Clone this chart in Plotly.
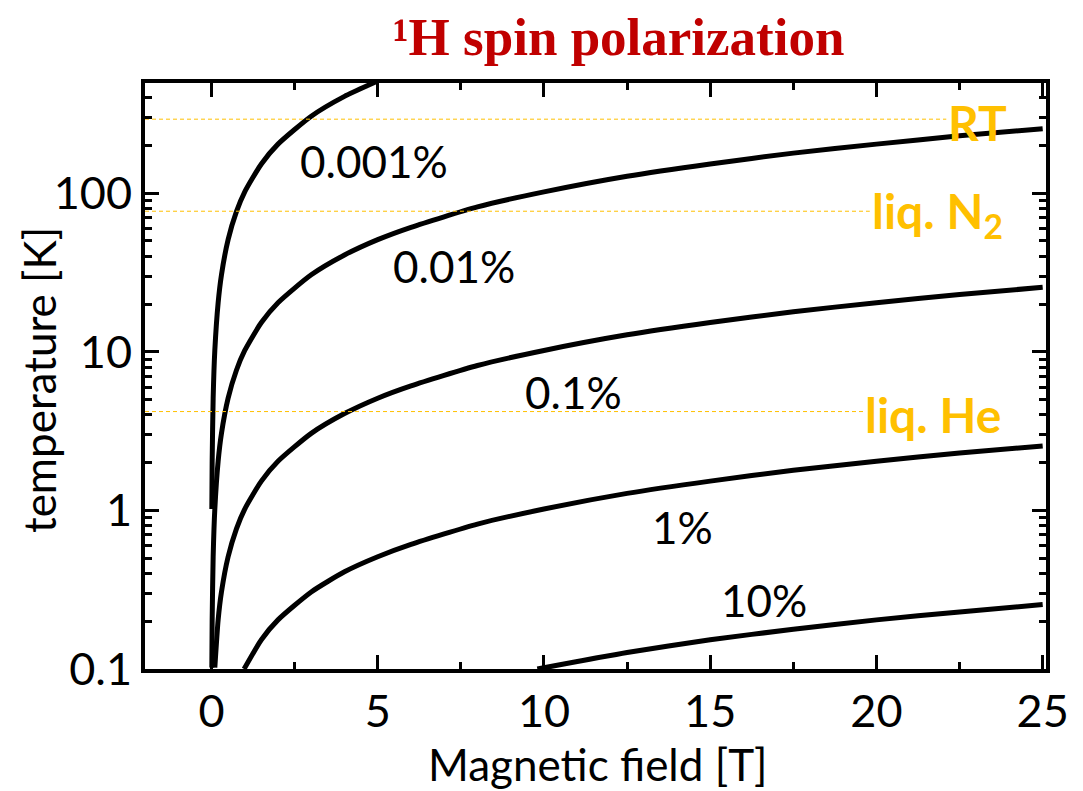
import math
import plotly.graph_objects as go

# ---- data ----
# 0.001 % polarization
b_0001 = [0.01, 0.02, 0.05, 0.1, 0.2, 0.3, 0.5, 0.75, 1.0, 1.5, 2.0, 3.0, 4.0, 5.0]
t_0001 = [1.02, 2.04, 5.1, 10.2, 20.4, 30.6, 51, 76.5, 102, 153, 204, 306, 408, 510]
# 0.01 %
b_001 = [0.01, 0.02, 0.05, 0.1, 0.2, 0.3, 0.5, 0.75, 1.0, 1.5, 2.0, 3.0, 4.0, 5.0, 6.0, 8.0,
         10.0, 12.5, 15.0, 17.5, 20.0, 22.5, 25.0]
t_001 = [0.102, 0.204, 0.51, 1.02, 2.04, 3.06, 5.1, 7.65, 10.2, 15.3, 20.4, 30.6, 40.8, 51, 61, 82,
         102, 128, 153, 179, 204, 230, 255]
# 0.1 %
b_01 = [0.1, 0.2, 0.3, 0.5, 0.75, 1.0, 1.5, 2.0, 3.0, 4.0, 5.0, 6.0, 8.0,
        10.0, 12.5, 15.0, 17.5, 20.0, 22.5, 25.0]
t_01 = [0.102, 0.204, 0.306, 0.51, 0.765, 1.02, 1.53, 2.04, 3.06, 4.08, 5.1, 6.1, 8.2,
        10.2, 12.8, 15.3, 17.9, 20.4, 23.0, 25.5]
# 1 %
b_1 = [0.98, 1.5, 2.0, 3.0, 4.0, 5.0, 6.0, 8.0, 10.0, 12.5, 15.0, 17.5, 20.0, 22.5, 25.0]
t_1 = [0.1, 0.153, 0.204, 0.306, 0.41, 0.51, 0.61, 0.82, 1.02, 1.28, 1.53, 1.79, 2.04, 2.3, 2.55]
# 10 %
b_10 = [9.8, 12.5, 15.0, 17.5, 20.0, 22.5, 25.0]
t_10 = [0.1, 0.127, 0.153, 0.178, 0.204, 0.229, 0.255]

curve_labels = ["0.001%", "0.01%", "0.1%", "1%", "10%"]
label_x = [4.88, 7.30, 10.88, 14.18, 16.62]
label_t = [167.6, 36.1, 5.86, 0.822, 0.284]

ref_names = ["RT", "liq. N<sub>2</sub>", "liq. He"]
ref_temps = [293, 77, 4.2]
ref_label_x = [22.1, 19.8, 19.6]

x_ticks = [0, 5, 10, 15, 20, 25]
y_ticks = [0.1, 1, 10, 100]
y_ticklabels = ["0.1", "1", "10", "100"]

ORANGE = "#FFC000"
SANS = "Lato, Carlito, Calibri, sans-serif"

fig = go.Figure()

for bx, ty in [(b_0001, t_0001), (b_001, t_001), (b_01, t_01), (b_1, t_1), (b_10, t_10)]:
    fig.add_trace(go.Scatter(x=bx, y=ty, mode="lines",
                             line=dict(color="black", width=5, shape="spline", smoothing=0.6),
                             showlegend=False, hoverinfo="skip"))

for t, xe in zip(ref_temps, ref_label_x):
    fig.add_trace(go.Scatter(x=[-2, xe], y=[t, t], mode="lines",
                             line=dict(color=ORANGE, width=1, dash="4px,3px"),
                             showlegend=False, hoverinfo="skip"))

for txt, x, t in zip(curve_labels, label_x, label_t):
    fig.add_annotation(x=x, y=math.log10(t), text=txt, showarrow=False,
                       yshift=-3,
                       font=dict(family=SANS, size=44, color="black"))

for txt, t, x in zip(ref_names, ref_temps, ref_label_x):
    fig.add_annotation(x=x, y=math.log10(t), text="<b>" + txt + "</b>", showarrow=False,
                       xanchor="left", yanchor="middle", yshift=-3,
                       font=dict(family=SANS, size=48, color=ORANGE))

# axis titles
fig.add_annotation(xref="paper", yref="paper", x=0.5033, y=-0.1655, text="Magnetic field [T]",
                   showarrow=False, xanchor="center", yanchor="middle", yshift=2,
                   font=dict(family=SANS, size=44, color="black"))
fig.add_annotation(xref="paper", yref="paper", x=-0.1176, y=0.4932, text="temperature [K]",
                   showarrow=False, xanchor="center", yanchor="middle", textangle=-90,
                   font=dict(family=SANS, size=44, color="black"))

axis_common = dict(showline=True, linecolor="black", linewidth=4, mirror="ticks",
                   ticks="inside", ticklen=14, tickwidth=3, tickcolor="black",
                   showgrid=False, zeroline=False,
                   tickfont=dict(family=SANS, size=45, color="black"))

fig.update_xaxes(range=[-2, 25.1], tickvals=x_ticks,
                 minor=dict(ticks="inside", ticklen=7, tickwidth=3, tickcolor="black", dtick=2.5, tick0=0),
                 **axis_common)
fig.update_yaxes(type="log", range=[-1, 2.695], tickvals=y_ticks, ticktext=y_ticklabels,
                 minor=dict(ticks="inside", ticklen=7, tickwidth=3, tickcolor="black", dtick="D1"),
                 **axis_common)

fig.update_layout(
    width=1075, height=783,
    margin=dict(l=137, r=37, t=75, b=122, autoexpand=False),
    paper_bgcolor="white", plot_bgcolor="white",
    title=dict(text="<b>¹H spin polarization</b>", x=0.568, xanchor="center",
               y=0.964, yanchor="middle",
               font=dict(family="Liberation Serif, Times New Roman, serif", size=53, color="#C00000")),
)

fig.write_html("out.html")
